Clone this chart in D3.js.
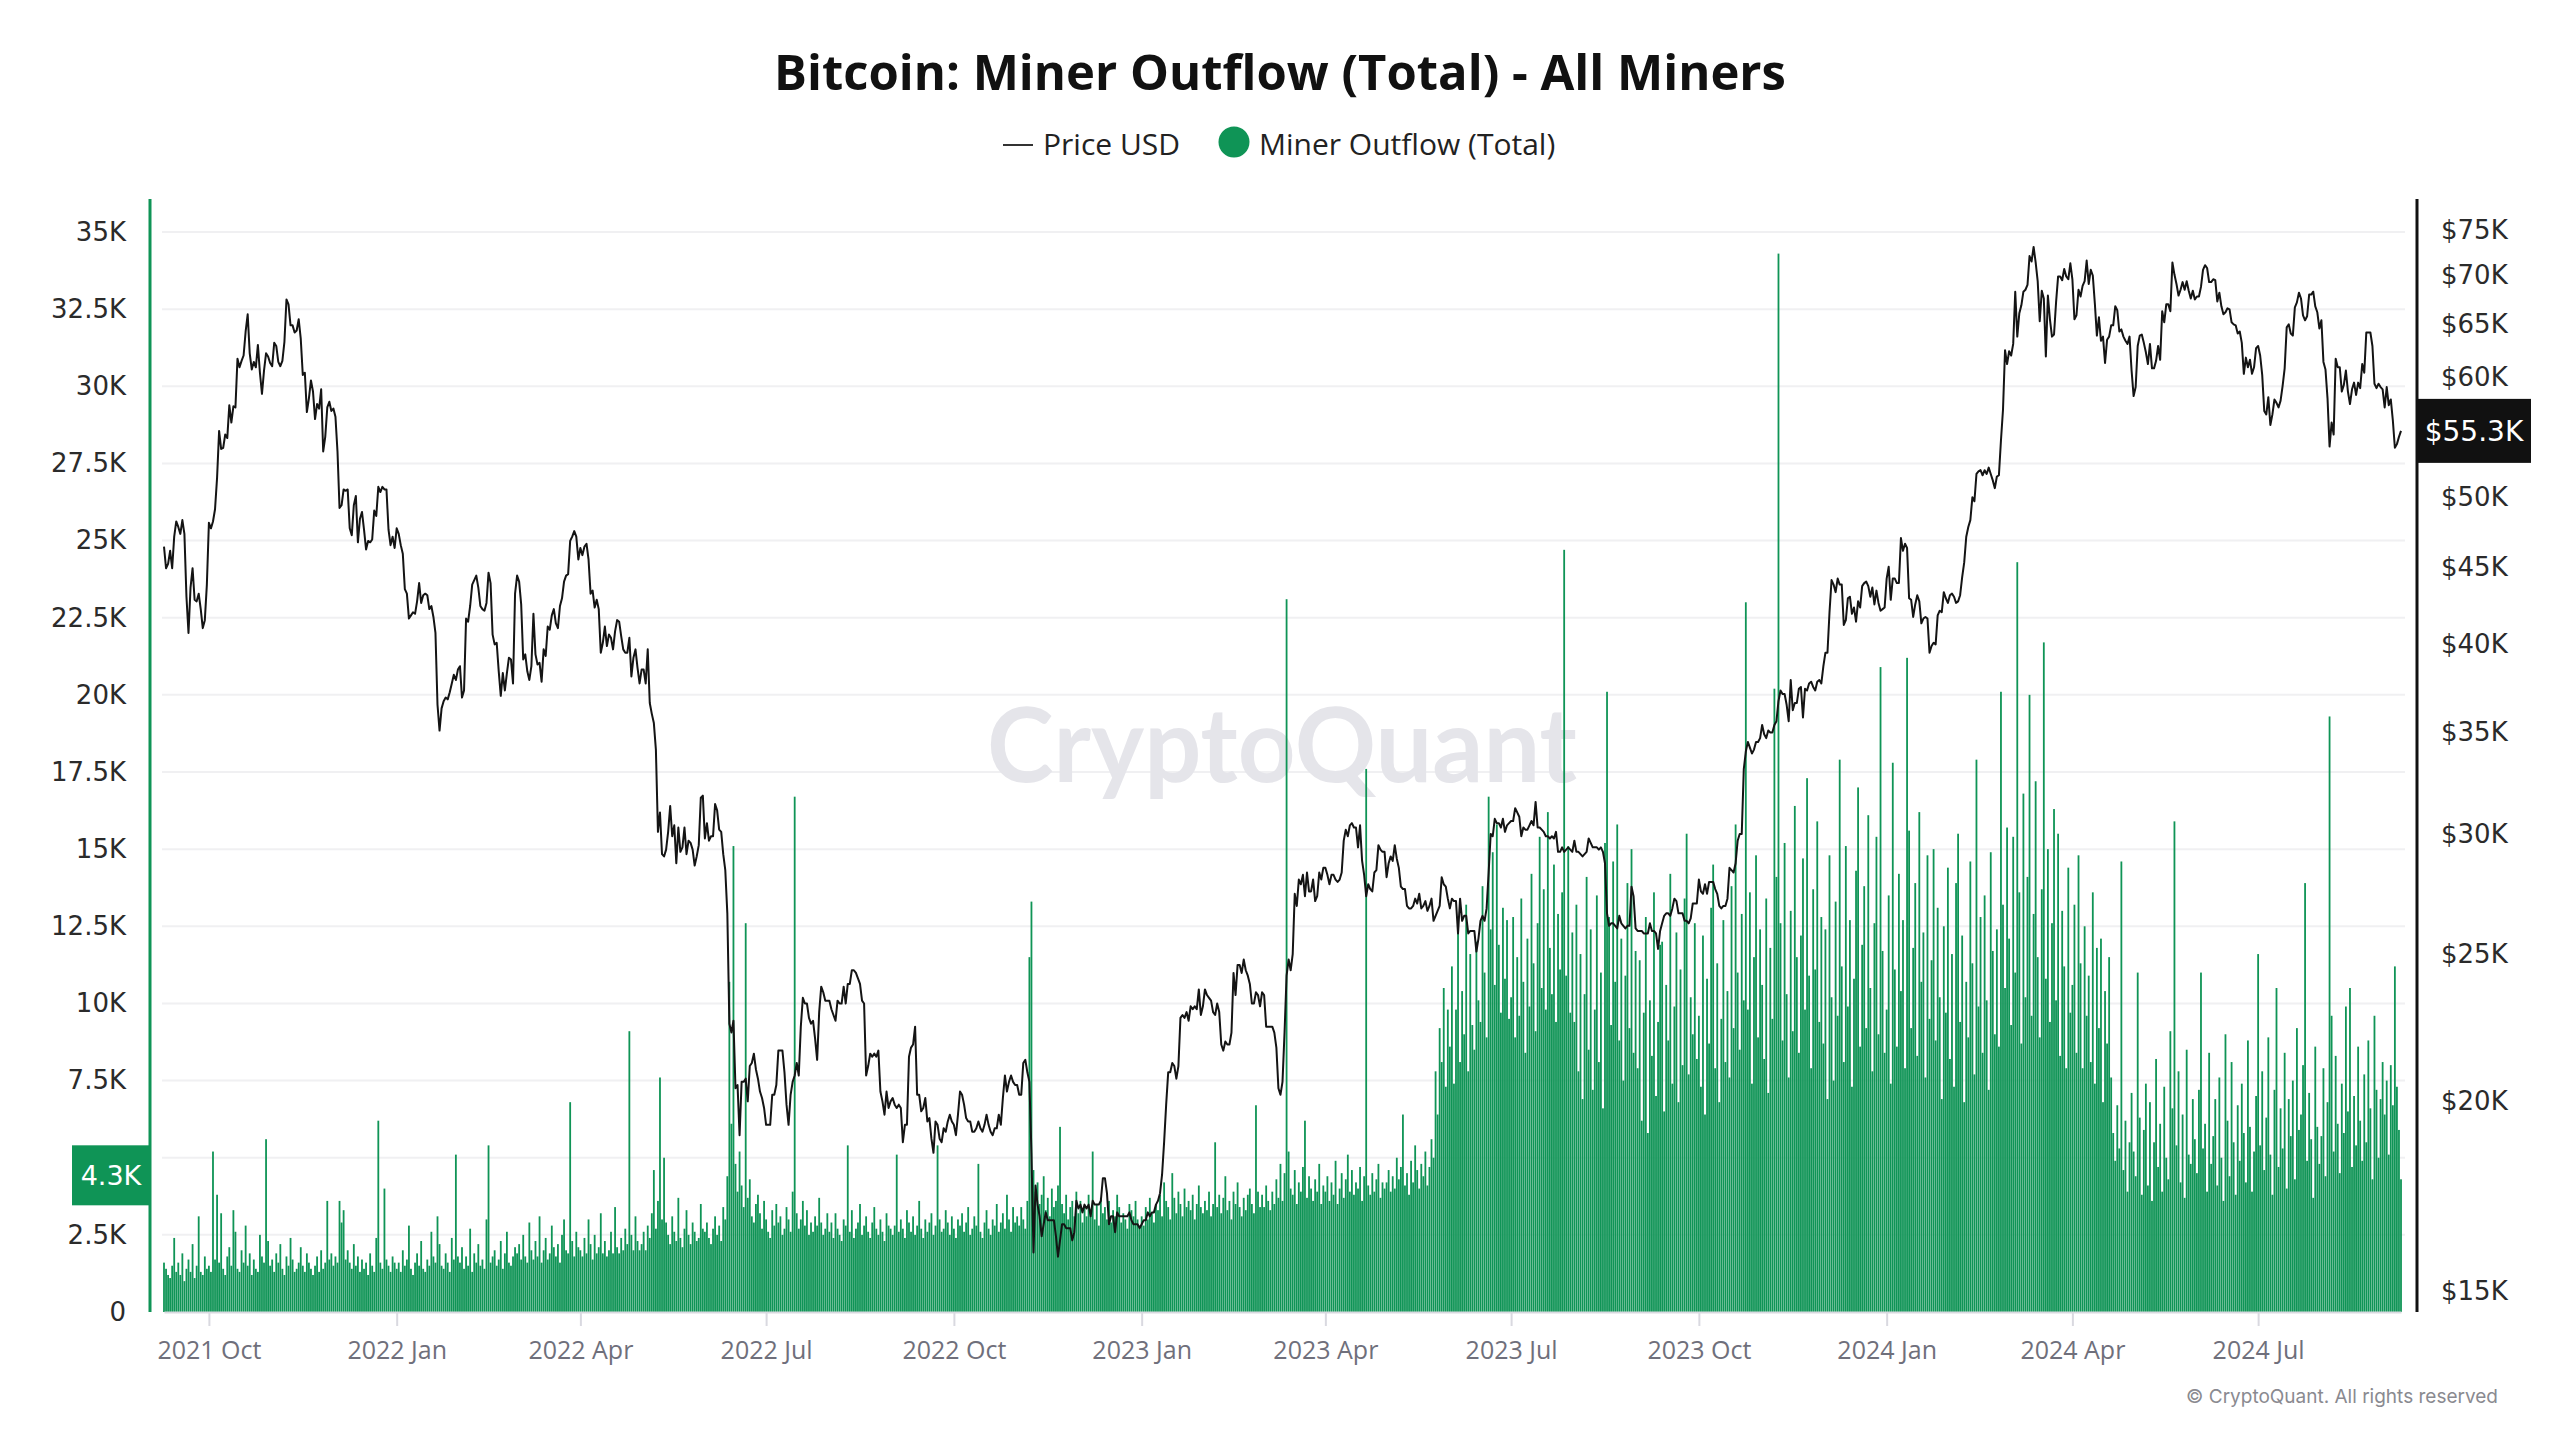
<!DOCTYPE html>
<html><head><meta charset="utf-8">
<script src="https://cdn.jsdelivr.net/npm/d3@7"></script>
<style>html,body{margin:0;padding:0;background:#fff;}svg{display:block;}</style>
</head><body>
<svg id="chart" width="2560" height="1440"></svg>
<script>
// ---------- DATA ----------
const startDate = "2021-09-09"; // first daily observation
const chartTitle = "Bitcoin: Miner Outflow (Total) - All Miners";
const seriesNames = ["Price USD", "Miner Outflow (Total)"];

// Price USD (daily close, in $K)
const price2021 = [
 46.4,44.9,45.2,46.1,44.9,47.1,48.2,47.8,47.3,48.3,47.3,43.0,40.7,43.6,44.9,42.8,42.7,43.2,42.2,41.0,41.5,43.8,
 48.1,47.7,48.2,49.1,51.5,55.3,53.8,53.9,55.0,54.7,57.5,56.0,57.4,57.3,61.7,60.9,61.5,62.0,64.3,66.0,62.2,60.7,61.4,60.9,63.0,60.4,58.5,60.6,62.2,61.9,61.3,
 61.0,63.2,62.9,61.4,61.0,61.5,63.3,67.5,67.0,64.9,64.9,64.2,64.4,65.5,63.6,60.2,60.4,56.9,58.1,59.7,58.7,56.3,57.6,57.2,58.9,53.6,54.8,57.3,57.8,57.0,
 57.2,56.5,53.6,49.2,49.4,50.6,50.5,50.6,47.7,47.2,49.4,50.1,46.7,48.4,48.9,47.6,46.2,46.8,46.7,46.9,49.0,48.6,50.8,50.4,50.8,50.6,50.6,47.6,46.5,47.1,46.3
];
const price2022 = [
 47.7,47.3,46.5,45.9,43.5,43.2,41.6,41.8,42.0,41.9,42.7,43.9,42.6,43.1,43.2,43.1,42.2,42.4,41.7,40.7,36.5,35.1,36.3,36.7,36.9,36.8,37.2,37.7,38.2,37.9,38.5,
 38.7,36.9,37.3,41.6,41.4,42.4,43.8,44.1,44.4,43.6,42.4,42.2,42.1,42.6,44.6,43.9,40.6,40.0,40.1,38.4,37.0,38.3,37.3,38.3,39.2,39.1,37.7,43.2,
 44.4,44.0,42.5,39.1,39.4,38.4,37.9,38.7,41.9,39.4,38.8,38.9,37.8,39.7,39.3,41.1,40.9,41.8,42.2,41.3,41.0,42.4,42.9,44.0,44.4,44.5,46.8,47.1,47.5,47.1,45.5,
 46.3,45.8,46.4,46.6,45.5,43.2,43.4,42.3,42.8,42.2,39.5,40.1,41.1,39.9,40.6,40.4,39.7,40.8,41.5,41.4,40.5,39.7,39.5,39.5,40.4,38.1,39.2,39.7,38.6,37.7,
 38.5,38.5,37.7,39.7,36.6,36.0,35.5,34.1,30.1,31.0,29.1,29.0,29.3,30.1,31.3,29.9,30.4,28.7,30.3,29.2,29.4,30.3,29.1,29.7,29.6,29.3,28.6,29.0,29.5,31.7,31.8,
 29.8,30.5,29.7,29.9,29.9,31.4,31.1,30.2,30.1,29.1,28.4,26.6,22.5,22.2,22.6,20.4,20.5,19.0,20.6,20.6,20.7,20.0,21.1,21.2,21.5,21.0,20.7,20.3,20.1,19.8,
 19.3,19.3,19.3,20.2,20.2,20.5,21.6,21.6,21.6,20.9,19.9,19.3,20.2,20.6,20.8,21.2,20.8,22.4,23.4,23.2,23.2,22.7,22.5,22.6,22.0,21.3,22.9,23.8,23.6,23.3,23.3,
 23.3,23.0,22.8,22.6,23.3,23.2,23.2,23.8,23.2,23.9,23.9,24.4,24.4,24.3,24.1,23.9,23.3,23.2,20.8,21.1,21.5,21.4,21.5,21.4,21.6,20.3,20.0,19.6,20.3,19.8,20.0,
 20.1,19.9,19.8,19.9,19.8,18.8,19.3,19.3,21.4,21.7,21.8,22.4,20.2,20.2,19.7,19.8,20.1,19.4,19.5,18.9,18.5,19.4,19.3,18.9,18.8,19.2,19.1,19.4,19.6,19.4,
 19.3,19.0,19.6,20.3,20.2,19.9,19.5,19.4,19.4,19.1,19.1,19.2,19.4,19.2,19.1,19.3,19.6,19.3,19.1,19.0,19.2,19.2,19.6,19.3,20.1,20.8,20.3,20.6,20.8,20.6,20.5,
 20.5,20.2,20.2,21.2,21.3,20.9,20.6,18.5,15.9,17.6,17.1,16.8,16.3,16.6,16.9,16.7,16.7,16.7,16.7,16.3,15.8,16.2,16.6,16.6,16.5,16.5,16.5,16.2,16.4,17.2,
 17.0,17.1,16.9,17.1,17.0,17.1,16.8,17.2,17.1,17.1,17.1,17.2,17.8,17.8,17.4,16.6,16.8,16.8,16.4,16.9,16.8,16.8,16.8,16.8,16.8,16.9,16.7,16.6,16.6,16.6,16.5
];
const price2023 = [
 16.6,16.7,16.7,16.9,16.8,16.9,16.9,17.1,17.2,17.4,17.9,18.8,19.9,20.9,20.9,21.2,21.1,20.7,21.1,22.7,22.8,22.7,22.9,22.6,23.1,23.0,23.1,23.0,23.7,22.8,23.1,
 23.7,23.5,23.4,23.3,22.9,22.8,23.2,22.9,21.8,21.6,21.9,21.8,21.8,22.2,24.3,23.5,24.6,24.6,24.3,24.8,24.4,24.2,23.9,23.2,23.2,23.6,23.5,23.1,
 23.6,23.5,22.4,22.4,22.4,22.4,22.2,21.7,20.4,20.2,20.6,22.2,24.2,24.8,24.4,25.0,27.4,26.9,28.0,27.8,28.2,27.3,28.3,27.5,27.5,28.0,27.1,27.3,28.3,28.0,28.5,
 28.5,28.2,27.8,28.2,28.2,28.0,27.9,28.0,28.3,29.7,30.2,29.9,30.4,30.5,30.3,30.3,29.4,30.4,28.8,28.2,27.3,27.8,27.6,27.5,28.3,28.4,29.5,29.3,29.2,29.2,
 28.1,28.7,29.0,28.8,29.5,28.9,28.5,27.7,27.6,27.6,26.9,26.8,26.8,26.9,27.2,27.0,27.4,26.8,26.9,27.1,26.7,26.9,27.2,26.3,26.5,26.7,26.9,28.1,27.8,27.7,27.2,
 26.8,27.2,27.1,27.1,25.8,27.2,26.3,26.5,26.5,25.8,25.9,25.9,25.9,25.1,25.6,26.3,26.5,26.3,26.8,28.3,30.0,29.9,30.7,30.5,30.5,30.3,30.7,30.1,30.4,30.5,
 30.6,30.6,31.2,31.0,30.8,29.9,30.3,30.2,30.2,30.4,30.6,30.4,31.5,30.3,30.3,30.2,30.1,29.9,29.9,29.8,29.9,29.8,30.1,29.2,29.2,29.4,29.2,29.3,29.4,29.3,29.2,
 29.7,29.2,29.2,29.1,29.0,29.1,29.2,29.8,29.6,29.4,29.4,29.4,29.3,29.4,29.2,28.7,26.6,26.1,26.2,26.2,26.1,26.0,26.5,26.2,26.1,26.0,26.1,26.1,27.7,27.3,26.0,
 25.9,25.9,25.9,25.8,25.8,25.8,26.2,25.9,25.9,25.8,25.2,25.9,26.2,26.5,26.6,26.6,26.5,26.8,27.2,27.1,26.6,26.6,26.6,26.3,26.3,26.2,26.4,27.0,27.0,27.0,
 28.0,27.5,27.4,27.8,27.4,27.9,27.9,27.9,27.6,27.4,26.9,26.8,26.9,26.9,27.2,28.5,28.4,28.3,28.7,29.7,30.0,30.0,33.1,34.0,34.5,34.2,33.9,34.1,34.5,34.5,34.7,
 35.4,34.9,34.7,35.1,35.0,35.0,35.4,35.6,36.7,37.3,37.1,37.1,36.5,35.6,37.9,36.2,36.6,36.6,37.4,37.5,35.8,37.4,37.3,37.7,37.8,37.5,37.3,37.8,37.9,37.7,
 38.7,39.5,39.5,42.0,44.1,43.8,43.3,44.2,43.8,43.8,41.2,41.5,42.9,43.0,41.9,42.3,41.4,42.7,42.3,43.7,43.9,44.0,43.7,43.0,43.6,42.5,43.4,42.6,42.1,42.2,42.3
];
const price2024 = [
 44.2,45.0,42.8,44.2,44.2,43.9,43.9,47.0,46.1,46.6,46.3,42.9,42.8,41.7,42.5,43.1,42.7,41.3,41.6,41.7,41.6,39.5,39.9,40.1,40.0,41.8,42.1,42.0,43.3,42.9,42.6,
 43.1,43.2,43.0,42.6,42.7,43.1,44.3,45.3,47.1,47.8,48.3,50.0,49.7,51.8,52.0,52.1,51.7,52.1,51.8,52.3,51.8,51.3,50.7,51.6,51.7,54.5,57.1,62.5,61.2,
 62.4,62.0,63.1,68.3,63.8,66.1,66.9,68.3,68.5,69.0,72.1,71.5,73.1,71.4,69.4,65.3,68.4,67.6,61.9,67.9,65.5,63.8,64.0,67.2,69.9,69.9,69.5,70.7,69.9,69.6,71.3,
 69.6,65.5,65.9,68.5,67.8,68.9,69.4,71.6,69.1,70.6,70.0,67.1,63.9,65.7,63.4,63.8,61.3,63.5,63.8,64.9,64.9,66.8,66.4,64.3,64.5,63.8,63.4,63.1,63.8,60.6,
 58.3,59.1,62.9,63.9,64.0,63.2,62.3,61.2,63.1,60.8,60.8,61.5,62.9,61.6,66.3,65.2,67.0,67.0,66.3,71.4,70.1,69.1,67.9,68.5,69.3,68.5,69.4,68.4,67.6,68.4,67.5,
 67.8,67.8,68.8,70.6,71.1,70.8,69.3,69.3,69.6,69.5,67.3,68.2,66.8,66.0,66.2,66.6,66.5,65.2,65.0,64.9,64.1,64.3,63.2,60.3,61.8,60.9,61.6,60.3,60.9,62.7,
 62.9,62.0,60.2,57.0,56.7,58.2,55.8,56.7,58.0,57.7,57.3,57.9,59.2,60.8,64.7,65.0,64.1,63.9,66.7,67.2,68.2,67.6,65.9,65.4,65.8,68.0,68.0,68.3,66.8,66.2,64.6,
 65.4,61.4,60.7,58.1,54.0,56.0,55.0,61.7,60.9,60.9,58.7,59.3,60.6,58.7,57.6,58.9,59.5,58.4,59.5,59.0,61.2,60.4,64.2,64.2,64.2,62.9,59.4,59.0,59.4,59.1,58.9,
 57.3,59.1,57.5,58.0,56.2,53.9,54.2,54.8,55.3
];

// Miner Outflow (Total), daily, in thousand BTC
const outflow2021 = [
 1.6,1.4,1.2,1.1,1.5,2.4,1.3,1.6,1.2,1.9,1.0,1.4,1.7,1.3,2.2,1.1,1.5,3.1,1.3,1.2,1.8,1.4,
 1.5,1.3,5.2,1.7,3.8,1.6,3.2,1.4,1.2,1.8,2.1,1.5,3.3,2.6,1.4,1.3,2.0,1.6,2.8,1.5,1.9,1.2,1.7,1.4,1.3,2.5,1.8,1.6,5.6,2.3,1.5,
 1.7,1.3,1.9,1.6,2.2,1.4,1.2,1.8,1.5,2.4,1.7,1.3,1.4,1.6,2.1,1.5,1.3,1.9,1.6,1.4,1.2,1.5,1.8,1.3,2.0,1.4,1.6,3.6,1.7,1.9,
 1.5,1.8,1.6,3.6,2.9,3.3,1.7,2.0,1.6,1.4,2.2,1.5,1.8,1.3,1.7,1.4,1.6,1.2,1.9,1.5,1.3,2.4,6.2,1.6,1.4,4.0,1.7,1.5,1.3,1.8,1.6
];
const outflow2022 = [
 1.4,1.6,1.3,2.0,1.5,1.7,2.8,1.4,1.2,1.6,1.9,1.5,2.3,1.4,1.3,1.7,1.5,2.6,1.8,1.6,3.1,2.2,1.5,1.4,1.9,1.6,1.3,2.4,1.7,5.1,1.8,
 1.6,2.1,1.4,1.8,1.5,2.7,1.3,1.9,1.6,2.2,1.5,1.7,1.4,3.0,5.4,1.6,1.8,2.0,1.5,1.7,2.3,1.4,1.9,2.6,1.6,1.5,1.8,2.1,
 1.9,2.2,1.7,2.5,1.8,1.6,2.9,2.0,1.7,2.3,1.8,3.1,1.6,2.0,2.4,1.7,1.9,2.8,2.1,1.8,2.2,1.6,2.5,3.0,2.0,1.9,6.8,2.3,1.8,2.6,2.1,
 2.0,1.8,2.4,1.9,3.0,2.2,1.7,2.5,1.9,2.1,3.2,1.9,2.3,1.8,2.0,2.6,1.9,3.4,2.1,1.9,2.4,2.0,2.7,2.2,9.1,2.5,2.0,3.1,2.3,2.0,
 2.2,2.6,2.0,2.8,2.4,3.2,4.6,2.7,3.6,7.6,3.0,5.0,2.9,2.5,2.2,3.1,2.6,2.3,3.7,2.4,2.1,2.7,3.3,2.5,2.2,2.9,2.6,2.3,2.4,3.5,2.7,
 2.6,2.9,2.4,2.2,2.7,3.1,2.5,2.8,2.3,3.4,3.0,4.4,10.7,6.1,15.1,4.8,3.9,5.2,4.1,3.4,12.6,3.7,4.3,3.1,2.9,3.5,3.8,3.2,2.7,3.6,
 3.0,2.6,2.4,3.3,2.8,3.5,2.9,3.1,2.5,2.7,3.4,3.0,2.6,3.9,16.7,3.2,2.7,3.0,3.6,2.8,3.3,2.5,2.9,2.6,3.1,2.8,3.7,2.9,2.5,2.7,3.2,
 2.6,2.9,2.4,3.2,2.7,2.5,2.3,3.0,2.8,5.4,2.6,3.3,2.4,2.7,2.9,3.5,2.5,2.8,3.1,2.6,2.4,2.9,3.4,2.7,2.5,3.0,2.6,2.3,3.2,2.8,2.7,
 2.5,2.8,5.1,2.6,3.0,2.7,2.4,3.3,2.9,2.6,3.1,2.5,2.8,3.6,2.7,2.4,3.0,2.6,2.9,3.2,2.5,2.8,5.4,3.0,2.6,2.7,3.3,2.9,2.5,3.1,
 2.7,2.4,3.0,2.8,3.2,2.6,2.9,3.4,2.5,2.7,3.1,2.8,4.8,2.6,2.4,2.9,3.3,2.7,2.5,3.0,2.8,3.5,2.6,2.9,3.2,2.7,3.8,3.0,2.6,3.4,2.9,
 3.1,2.8,3.4,3.0,2.7,3.6,11.5,13.3,4.6,3.9,4.2,3.5,3.8,4.4,3.3,3.7,3.1,4.0,3.4,3.6,4.1,6.0,3.5,3.2,3.8,3.0,3.4,3.6,3.1,3.9,
 3.2,3.6,2.9,3.4,3.1,3.8,3.3,5.2,3.0,3.5,2.8,3.7,3.2,3.4,3.0,3.6,2.9,3.3,3.1,3.8,3.4,2.9,3.2,3.0,2.7,3.5,3.3,3.1,3.6,3.0,2.8
];
const outflow2023 = [
 3.1,2.8,3.4,3.0,3.7,3.2,2.9,3.5,3.3,3.8,3.1,4.2,3.6,3.4,3.0,4.5,3.7,3.2,3.9,3.5,3.1,4.0,3.4,3.6,3.3,3.8,3.0,3.5,4.1,3.4,3.2,
 3.6,3.3,3.9,3.1,3.5,5.5,3.4,3.8,3.2,3.7,4.4,3.3,3.6,3.0,3.9,3.5,4.2,3.4,3.1,3.7,3.3,3.8,4.0,3.5,3.2,6.7,3.9,3.4,
 3.8,3.4,4.1,3.6,3.3,3.9,3.5,4.3,3.7,4.8,3.6,4.5,23.1,5.2,4.0,3.8,4.6,3.5,4.2,3.9,4.7,6.2,3.7,4.4,4.0,3.6,4.3,3.9,4.8,3.5,4.1,
 3.9,4.4,3.6,4.2,3.8,4.9,3.5,4.0,4.5,3.7,4.3,5.1,3.9,4.6,3.8,4.2,4.0,4.7,3.6,4.4,17.6,4.1,3.8,4.5,3.9,4.3,4.8,3.7,4.2,4.0,
 4.2,4.6,3.9,4.4,4.0,5.0,4.3,4.7,6.4,4.1,4.5,3.8,4.9,4.2,5.4,4.6,4.0,4.8,4.4,5.2,4.1,4.7,5.6,5.0,7.8,6.4,9.2,8.1,10.5,7.3,9.8,
 8.6,11.2,7.4,9.8,12.5,8.1,10.4,9.0,13.2,7.8,11.6,9.3,8.5,12.0,10.1,9.4,13.8,11.0,8.9,16.7,12.4,14.9,10.6,15.8,11.9,9.7,13.1,10.8,12.7,9.5,
 10.2,12.8,8.9,11.5,9.6,13.4,10.7,8.4,12.1,9.9,14.2,11.3,9.1,12.6,15.4,10.5,13.7,9.8,16.2,11.8,10.3,14.5,9.4,12.9,11.1,13.6,24.7,10.9,15.1,9.7,12.3,
 9.4,13.2,7.8,11.6,6.9,10.3,14.1,8.5,12.4,7.2,9.8,13.5,8.1,11.0,6.6,15.2,20.1,12.8,9.3,14.6,10.7,15.8,8.8,12.1,7.5,10.9,13.9,9.2,15.0,8.4,11.7,
 7.9,11.4,6.2,9.7,12.8,5.8,10.1,8.3,13.6,7.0,9.4,11.9,12.0,6.5,10.6,8.8,14.2,7.4,9.9,12.3,6.8,11.1,8.0,13.4,15.5,7.7,10.2,9.0,12.6,8.2,
 9.6,7.3,12.2,6.4,10.8,8.7,13.1,14.5,7.9,11.3,6.8,9.5,12.7,8.1,10.4,7.6,13.8,9.2,15.8,11.0,8.5,12.9,10.1,23.0,9.8,13.6,7.4,11.5,14.8,8.9,12.4,
 10.6,8.2,13.4,7.1,11.8,9.5,20.2,14.1,34.3,12.6,8.8,15.2,10.3,7.6,13.0,9.1,16.4,11.5,8.4,12.2,14.7,9.8,17.3,10.9,7.9,13.7,11.1,15.9,9.4,12.8,
 8.7,12.4,6.9,14.8,10.2,7.5,13.3,9.6,17.9,11.2,8.1,15.1,9.9,12.7,7.3,10.8,14.3,17.0,8.6,11.9,13.8,9.2,16.1,10.5,7.8,12.6,15.4,9.0,20.9,11.7,8.4
];
const outflow2024 = [
 9.8,13.5,7.4,17.8,11.1,8.6,14.2,10.4,12.7,7.9,21.2,15.6,9.2,11.8,13.9,8.3,16.2,10.7,12.3,7.6,14.8,9.5,11.4,15.0,8.8,13.1,10.2,6.9,12.5,9.7,14.4,
 8.2,11.6,7.3,13.9,15.5,9.4,12.2,6.8,10.7,8.9,14.6,11.3,7.7,17.9,9.9,12.8,8.4,13.5,10.1,7.2,14.9,11.7,9.0,12.4,8.6,20.1,13.2,10.5,15.7,
 12.1,9.3,15.4,11.0,24.3,13.6,8.7,16.8,10.2,14.1,20.0,9.6,12.9,17.2,11.5,8.9,13.7,21.7,10.8,15.0,9.4,12.6,16.3,10.1,15.5,8.3,13.0,11.2,7.9,14.4,9.7,
 10.6,13.2,8.4,14.8,11.3,7.9,12.5,9.6,10.9,8.1,13.6,7.4,11.8,9.2,12.1,6.8,10.4,8.7,11.5,7.6,5.8,4.9,6.7,5.3,14.6,4.6,6.2,3.9,5.5,7.1,
 5.2,4.4,11.0,6.3,3.8,5.9,7.4,4.1,6.8,3.6,5.5,8.2,4.7,6.1,3.9,7.3,5.0,4.3,9.1,6.6,15.9,5.4,7.8,4.2,6.4,3.7,8.5,5.1,4.8,6.9,5.6,
 4.5,7.2,11.0,5.3,6.1,3.9,8.4,4.8,5.7,6.9,4.1,7.6,5.0,3.6,9.0,6.2,4.4,8.1,5.5,3.8,6.7,4.9,7.4,5.8,4.2,8.8,6.0,3.9,5.2,7.0,
 11.6,5.4,7.8,4.6,6.3,8.9,5.1,3.8,7.2,10.5,4.7,6.6,5.3,8.4,4.0,6.9,5.7,7.5,4.3,9.2,5.9,6.4,8.0,13.9,4.9,7.1,5.6,3.7,8.6,6.0,4.8,
 5.7,7.9,4.4,6.8,19.3,9.6,5.2,8.3,6.1,4.5,7.4,5.8,9.9,6.5,10.5,4.7,7.0,5.4,8.6,6.2,4.9,7.7,5.5,8.8,6.6,4.3,9.6,7.2,5.0,6.9,8.1,
 6.4,7.5,5.1,8.0,6.7,11.2,7.3,5.9,4.3
];

// Axis tick values
const outflowTicks = [0,2.5,5,7.5,10,12.5,15,17.5,20,22.5,25,27.5,30,32.5,35];
const priceTicks = [15,20,25,30,35,40,45,50,55,60,65,70,75];

// ---------- BUILD ----------
const GREEN = "#0f9456";
const price = [].concat(price2021, price2022, price2023, price2024);
const outflow = [].concat(outflow2021, outflow2022, outflow2023, outflow2024);
const n = Math.min(price.length, outflow.length);
const t0 = d3.utcParse("%Y-%m-%d")(startDate);
const data = d3.range(n).map(i => ({date: d3.utcDay.offset(t0, i), price: price[i], outflow: outflow[i]}));

const svg = d3.select("#chart");
const plotTop = 199, plotBottom = 1312, leftX = 150, rightX = 2417;

const x = d3.scaleUtc().domain([data[0].date, data[n-1].date]).range([164, 2401]);
const yL = d3.scaleLinear().domain([0, 35]).range([plotBottom, 232]);
const yR = d3.scaleLog().domain([15, 75]).range([1291, 230]);

const last = data[n-1];
const lyL = yL(last.outflow) - 4;
const lyR = yR(last.price);

// gridlines
svg.append("g").selectAll("line").data(outflowTicks.filter(d => d > 0)).join("line")
  .attr("x1", 162).attr("x2", 2405)
  .attr("y1", d => yL(d)).attr("y2", d => yL(d))
  .attr("stroke", "#f0f0f2").attr("stroke-width", 2);

// watermark
svg.append("text").attr("x", 1282).attr("y", 782).attr("text-anchor", "middle")
  .attr("font-family", "Lato, 'DejaVu Sans', sans-serif").attr("font-weight", 700).attr("font-size", 104)
  .attr("textLength", 590).attr("lengthAdjust", "spacingAndGlyphs")
  .attr("fill", "#e5e5ea").text("CryptoQuant");

// bars
svg.append("g").selectAll("rect").data(data).join("rect")
  .attr("x", d => x(d.date) - 0.9).attr("width", 1.8)
  .attr("y", d => yL(d.outflow)).attr("height", d => plotBottom - yL(d.outflow))
  .attr("fill", GREEN);

// price line
svg.append("path").datum(data)
  .attr("fill", "none").attr("stroke", "#141414").attr("stroke-width", 2)
  .attr("stroke-linejoin", "round")
  .attr("d", d3.line().x(d => x(d.date)).y(d => yR(d.price)));

// bottom axis
const xAxis = svg.append("g").attr("transform", `translate(0,${plotBottom})`)
  .call(d3.axisBottom(x).ticks(d3.utcMonth.every(3)).tickFormat(d3.utcFormat("%Y %b"))
        .tickSize(14).tickSizeOuter(0).tickPadding(15));
xAxis.select(".domain").attr("stroke", "#d9d9e0").attr("stroke-width", 2);
xAxis.selectAll(".tick line").attr("stroke", "#d9d9e0").attr("stroke-width", 2);
xAxis.selectAll(".tick text").attr("font-family", "'Open Sans', sans-serif")
  .attr("font-size", 25).attr("fill", "#6f6f7b");

// left axis (labels hidden where the last-value marker sits)
const lAxis = svg.append("g").attr("transform", `translate(${leftX},0)`)
  .call(d3.axisLeft(yL).tickValues(outflowTicks)
        .tickFormat(d => Math.abs(yL(d) - lyL) < 40 ? "" : (d === 0 ? "0" : d + "K"))
        .tickSize(0).tickPadding(24));
lAxis.select(".domain").remove();
lAxis.selectAll(".tick text").attr("font-family", "'DejaVu Sans', sans-serif")
  .attr("font-size", 26).attr("fill", "#2b2b2b");
svg.append("line").attr("x1", leftX).attr("x2", leftX).attr("y1", plotTop).attr("y2", plotBottom)
  .attr("stroke", GREEN).attr("stroke-width", 3);

// right axis
const rAxis = svg.append("g").attr("transform", `translate(${rightX},0)`)
  .call(d3.axisRight(yR).tickValues(priceTicks)
        .tickFormat(d => Math.abs(yR(d) - lyR) < 32 ? "" : "$" + d + "K")
        .tickSize(0).tickPadding(24));
rAxis.select(".domain").remove();
rAxis.selectAll(".tick text").attr("font-family", "'DejaVu Sans', sans-serif")
  .attr("font-size", 26).attr("fill", "#2b2b2b");
svg.append("line").attr("x1", rightX).attr("x2", rightX).attr("y1", plotTop).attr("y2", plotBottom)
  .attr("stroke", "#111").attr("stroke-width", 3);

// last value labels
svg.append("rect").attr("x", 72).attr("y", lyL - 30).attr("width", leftX - 72).attr("height", 60).attr("fill", GREEN);
svg.append("text").attr("x", 111).attr("y", lyL).attr("dy", "0.35em").attr("text-anchor", "middle")
  .attr("font-family", "'DejaVu Sans', sans-serif").attr("font-size", 27).attr("fill", "#fff")
  .text(d3.format(".1f")(last.outflow) + "K");
svg.append("rect").attr("x", rightX + 1).attr("y", lyR - 32).attr("width", 113).attr("height", 64).attr("fill", "#111");
svg.append("text").attr("x", rightX + 57).attr("y", lyR).attr("dy", "0.35em").attr("text-anchor", "middle")
  .attr("font-family", "'DejaVu Sans', sans-serif").attr("font-size", 28).attr("fill", "#fff")
  .text("$" + d3.format(".1f")(last.price) + "K");

// title
svg.append("text").attr("x", 1280).attr("y", 90).attr("text-anchor", "middle")
  .attr("font-family", "'Open Sans', sans-serif").attr("font-weight", 700).attr("font-size", 49)
  .attr("textLength", 1012).attr("lengthAdjust", "spacingAndGlyphs")
  .attr("fill", "#111").text(chartTitle);

// legend
const lg = svg.append("g");
lg.append("line").attr("x1", 1003).attr("x2", 1033).attr("y1", 145).attr("y2", 145).attr("stroke", "#333").attr("stroke-width", 2);
lg.append("text").attr("x", 1043).attr("y", 155).attr("font-family", "'Open Sans', sans-serif")
  .attr("font-size", 30).attr("fill", "#222").text(seriesNames[0]);
lg.append("circle").attr("cx", 1234).attr("cy", 142).attr("r", 15.5).attr("fill", GREEN);
lg.append("text").attr("x", 1259).attr("y", 155).attr("font-family", "'Open Sans', sans-serif")
  .attr("font-size", 30).attr("fill", "#222").text(seriesNames[1]);

// credit
svg.append("text").attr("x", 2498).attr("y", 1403).attr("text-anchor", "end")
  .attr("font-family", "Inter, 'Open Sans', sans-serif").attr("font-size", 19).attr("fill", "#8a8a90")
  .text("© CryptoQuant. All rights reserved");
</script>
</body></html>
